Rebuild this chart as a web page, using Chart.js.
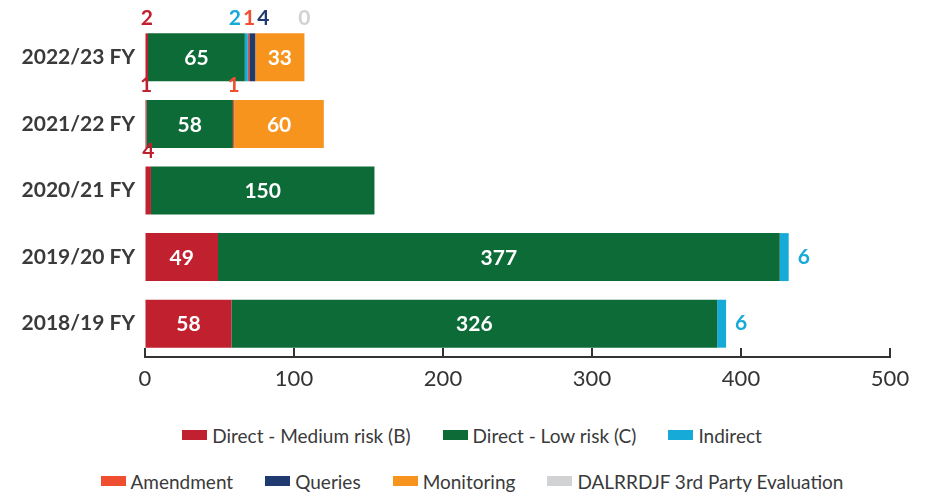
<!DOCTYPE html>
<html>
<head>
<meta charset="utf-8">
<script src="https://cdn.jsdelivr.net/npm/chart.js@4"></script>
<style>
  body { margin: 0; background: #fff; font-family: Lato, sans-serif; }
  #wrap { position: relative; width: 928px; height: 400px; }
  #legend { position: absolute; top: 412px; left: 0; width: 944px; }
  .row { display: flex; justify-content: center; gap: 32px; height: 46px; align-items: center; }
  .item { display: flex; align-items: center; font-size: 19px; color: #3a3a3a; }
  .box { width: 25px; height: 10px; margin-right: 5px; }
</style>
</head>
<body>
<div id="wrap"><canvas id="chart"></canvas></div>
<div id="legend"></div>
<script>
var categories = ['2022/23 FY', '2021/22 FY', '2020/21 FY', '2019/20 FY', '2018/19 FY'];
var mediumRisk = [2, 1, 4, 49, 58];
var lowRisk    = [65, 58, 150, 377, 326];
var indirect   = [2, null, null, 6, 6];
var amendment  = [1, 1, null, null, null];
var queries    = [4, null, null, null, null];
var monitoring = [33, 60, null, null, null];
var thirdParty = [0, null, null, null, null];
var xTicks = [0, 100, 200, 300, 400, 500];

var seriesNames = ['Direct - Medium risk (B)', 'Direct - Low risk (C)', 'Indirect',
                   'Amendment', 'Queries', 'Monitoring', 'DALRRDJF 3rd Party Evaluation'];
var seriesData = [mediumRisk, lowRisk, indirect, amendment, queries, monitoring, thirdParty];
var seriesColors = ['#c1202f', '#0d6b38', '#16aad8', '#f04e30', '#1e3a6e', '#f7941e', '#d1d2d4'];

var datasets = seriesNames.map(function(name, i) {
  return {
    label: name,
    data: seriesData[i],
    backgroundColor: seriesColors[i],
    borderWidth: 0,
    barPercentage: 0.72,
    categoryPercentage: 1
  };
});

// value labels: big ones inside, small ones above the bar or after its end
var labelPlugin = {
  id: 'segLabels',
  afterDatasetsDraw: function(chart) {
    var ctx = chart.ctx;
    ctx.save();
    ctx.font = 'bold 21px Lato';
    ctx.textBaseline = 'middle';
    categories.forEach(function(cat, j) {
      var above = [];
      var lastIdx = -1, total = 0;
      chart.data.datasets.forEach(function(ds, i) {
        if (ds.data[j] !== null) { lastIdx = i; total += ds.data[j]; }
      });
      chart.data.datasets.forEach(function(ds, i) {
        var v = ds.data[j];
        if (v === null) return;
        var bar = chart.getDatasetMeta(i).data[j];
        var x0 = Math.min(bar.x, bar.base), x1 = Math.max(bar.x, bar.base);
        var top = bar.y - bar.height / 2;
        if (v >= 10) {
          ctx.textAlign = 'center';
          ctx.fillStyle = '#fff';
          ctx.fillText(String(v), (x0 + x1) / 2, bar.y + 1);
        } else if (i === lastIdx && total > 300) {
          ctx.textAlign = 'left';
          ctx.fillStyle = ds.backgroundColor;
          ctx.fillText(String(v), x1 + 9, bar.y);
        } else {
          above.push({ x: (x0 + x1) / 2, w: ctx.measureText(String(v)).width, t: String(v),
                       c: ds.backgroundColor, y: top - 15 });
        }
      });
      // spread labels that would overlap
      var groups = [];
      above.forEach(function(l) {
        var g = groups[groups.length - 1];
        if (g) {
          var p = g[g.length - 1];
          if (l.x - p.x < (l.w + p.w) / 2 + 2) { g.push(l); return; }
        }
        groups.push([l]);
      });
      ctx.textAlign = 'center';
      groups.forEach(function(g) {
        var tw = 0, mx = 0;
        g.forEach(function(l) { tw += l.w; mx += l.x; });
        tw += 2 * (g.length - 1);
        mx /= g.length;
        var cx = mx - tw / 2;
        g.forEach(function(l) {
          ctx.fillStyle = l.c;
          ctx.fillText(l.t, cx + l.w / 2, l.y);
          cx += l.w + 2;
        });
      });
    });
    ctx.restore();
  }
};

// tick marks pointing up from the axis line
var tickPlugin = {
  id: 'innerTicks',
  afterDraw: function(chart) {
    var s = chart.scales.x, ctx = chart.ctx;
    ctx.save();
    ctx.strokeStyle = '#333';
    ctx.lineWidth = 2;
    xTicks.forEach(function(v) {
      var px = Math.round(s.getPixelForValue(v));
      ctx.beginPath();
      ctx.moveTo(px, s.top - 9);
      ctx.lineTo(px, s.top);
      ctx.stroke();
    });
    ctx.restore();
  }
};

new Chart(document.getElementById('chart'), {
  type: 'bar',
  data: { labels: categories, datasets: datasets },
  options: {
    indexAxis: 'y',
    responsive: true,
    maintainAspectRatio: false,
    animation: false,
    layout: { padding: { top: 24, right: 38, left: 0, bottom: 0 } },
    plugins: { legend: { display: false }, tooltip: { enabled: false } },
    scales: {
      x: {
        stacked: true,
        min: 0,
        max: 500,
        afterBuildTicks: function(scale) {
          scale.ticks = xTicks.map(function(v) { return { value: v }; });
        },
        afterFit: function(scale) { scale.height = 43; },
        grid: { drawOnChartArea: false, drawTicks: false },
        border: { display: true, color: '#333', width: 2 },
        ticks: { color: '#333', padding: 9, font: { family: 'Lato', size: 22 } }
      },
      y: {
        stacked: true,
        afterFit: function(scale) { scale.width = 145; },
        grid: { display: false, drawTicks: false },
        border: { display: false },
        ticks: { color: '#3a3a3a', padding: 10, font: { family: 'Lato', size: 21, weight: 'bold' } }
      }
    }
  },
  plugins: [labelPlugin, tickPlugin]
});

// two-row legend
var rows = [[0, 1, 2], [3, 4, 5, 6]];
var legend = document.getElementById('legend');
rows.forEach(function(r) {
  var row = document.createElement('div');
  row.className = 'row';
  r.forEach(function(i) {
    var item = document.createElement('div');
    item.className = 'item';
    item.innerHTML = '<span class="box" style="background:' + seriesColors[i] + '"></span>' + seriesNames[i];
    row.appendChild(item);
  });
  legend.appendChild(row);
});
</script>
</body>
</html>
